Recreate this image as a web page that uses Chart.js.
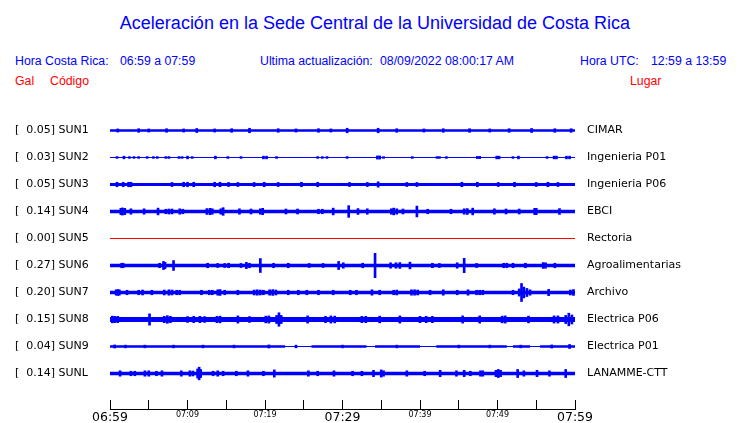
<!DOCTYPE html>
<html>
<head>
<meta charset="utf-8">
<script src="https://cdn.jsdelivr.net/npm/chart.js@4/dist/chart.umd.min.js"></script>
<style>
	body { margin: 0; background: #fff; width: 740px; height: 423px; overflow: hidden; position: relative; }
	canvas { position: absolute; left: 0; top: 0; }
	.t { position: absolute; white-space: pre; font-family: "Liberation Sans", Arial, sans-serif; font-size: 12.3px; line-height: 1; color: #0000ff; }
	.red { color: #ff0000; }
	#title { left: 0; width: 750px; text-align: center; top: 14px; font-size: 18px; }
</style>
</head>
<body>
<div class="t" id="title">Aceleración en la Sede Central de la Universidad de Costa Rica</div>
<div class="t" style="left:15px; top:55px;">Hora Costa Rica:</div>
<div class="t" style="left:120px; top:55px;">06:59 a 07:59</div>
<div class="t" style="left:260px; top:55px;">Ultima actualización:</div>
<div class="t" style="left:380px; top:55px;">08/09/2022 08:00:17 AM</div>
<div class="t" style="left:580px; top:55px;">Hora UTC:</div>
<div class="t" style="left:651px; top:55px;">12:59 a 13:59</div>
<div class="t red" style="left:15px; top:74.5px;">Gal</div>
<div class="t red" style="left:50px; top:74.5px;">Código</div>
<div class="t red" style="left:630px; top:74.5px;">Lugar</div>
<canvas id="sismo" width="740" height="423"></canvas>
<script>
// stations, top to bottom
const stationCodes = ['SUN1', 'SUN2', 'SUN3', 'SUN4', 'SUN5', 'SUN6', 'SUN7', 'SUN8', 'SUN9', 'SUNL'];
const stationScales = ['0.05', '0.03', '0.05', '0.14', '0.00', '0.27', '0.20', '0.15', '0.04', '0.14'];
const stationNames = ['CIMAR', 'Ingenieria P01', 'Ingenieria P06', 'EBCI', 'Rectoria', 'Agroalimentarias', 'Archivo', 'Electrica P06', 'Electrica P01', 'LANAMME-CTT'];

// time axis, minutes after 06:59
const xTickMinutes = [0, 5, 10, 15, 20, 25, 30, 35, 40, 45, 50, 55, 60];
const xTickLabels = ['06:59', '', '07:09', '', '07:19', '', '07:29', '', '07:39', '', '07:49', '', '07:59'];

// background noise level (Gal), as [from minute, half amplitude]
const sun1Noise = [[0, 0.03]];
const sun2Noise = [[0, 0]];
const sun3Noise = [[0, 0.035]];
const sun4Noise = [[0, 0.04]];
const sun5Noise = [[0, 0]];
const sun6Noise = [[0, 0.04]];
const sun7Noise = [[0, 0.04]];
const sun8Noise = [[0, 0.055]];
const sun9Noise = [[0, 0.026], [22.6, 0.008], [26.0, 0.026], [33.1, 0.008], [34.2, 0.026], [40.0, 0.008], [42.1, 0.026], [51.2, 0.008], [52.0, 0.026], [54.2, 0.008], [55.5, 0.026]];
const sunlNoise = [[0, 0.04]];

// peaks (Gal), as [minute, half amplitude]
const sun1Peaks = [[1.0, 0.035], [3.7, 0.04], [5.0, 0.035], [7.3, 0.04], [9.5, 0.035], [11.2, 0.045], [13.5, 0.035], [15.7, 0.04], [18.0, 0.05], [21.7, 0.04], [24.0, 0.035], [26.9, 0.04], [28.5, 0.035], [30.6, 0.05], [34.6, 0.05], [37.0, 0.04], [40.5, 0.035], [43.0, 0.04], [46.4, 0.04], [49.0, 0.035], [51.5, 0.04], [54.4, 0.045], [57.4, 0.04], [59.5, 0.04]];
const sun2Peaks = [[0.9, 0.02], [1.8, 0.03], [2.5, 0.02], [3.1, 0.02], [3.7, 0.02], [4.8, 0.02], [5.6, 0.02], [6.1, 0.02], [7.2, 0.02], [7.6, 0.02], [8.9, 0.02], [9.3, 0.02], [10.0, 0.03], [10.6, 0.02], [13.6, 0.03], [15.2, 0.02], [16.9, 0.02], [19.8, 0.03], [20.2, 0.03], [21.5, 0.02], [26.8, 0.02], [27.4, 0.02], [28.0, 0.02], [30.6, 0.02], [34.5, 0.035], [34.8, 0.035], [35.3, 0.02], [39.0, 0.02], [42.2, 0.02], [42.5, 0.02], [43.4, 0.02], [47.4, 0.025], [47.7, 0.025], [49.9, 0.03], [50.2, 0.03], [52.0, 0.02], [52.7, 0.03], [56.4, 0.02], [57.3, 0.03], [57.6, 0.03], [58.9, 0.03], [59.3, 0.03]];
const sun3Peaks = [[0.9, 0.05], [1.7, 0.05], [2.4, 0.05], [2.7, 0.05], [8.0, 0.045], [9.5, 0.05], [10.0, 0.05], [10.8, 0.05], [13.5, 0.05], [14.2, 0.05], [15.3, 0.045], [16.5, 0.045], [18.6, 0.045], [19.9, 0.05], [21.7, 0.045], [24.7, 0.05], [26.8, 0.05], [30.9, 0.045], [33.2, 0.045], [34.6, 0.06], [38.3, 0.045], [39.6, 0.045], [45.4, 0.05], [47.4, 0.05], [50.1, 0.045], [52.2, 0.05], [55.0, 0.045], [56.5, 0.05], [57.8, 0.045]];
const sun4Peaks = [[1.4, 0.07], [1.6, 0.08], [1.9, 0.07], [2.7, 0.06], [4.4, 0.06], [6.2, 0.075], [7.2, 0.05], [7.6, 0.055], [8.0, 0.055], [9.0, 0.06], [9.4, 0.05], [12.5, 0.065], [12.9, 0.07], [13.2, 0.06], [14.3, 0.06], [14.6, 0.085], [16.7, 0.06], [18.2, 0.055], [19.4, 0.06], [19.7, 0.07], [22.7, 0.055], [24.2, 0.055], [26.9, 0.05], [27.4, 0.05], [28.8, 0.075], [30.8, 0.13], [32.0, 0.065], [33.2, 0.06], [36.3, 0.06], [36.6, 0.075], [37.0, 0.06], [37.8, 0.055], [39.6, 0.12], [41.0, 0.05], [44.0, 0.05], [45.7, 0.06], [46.1, 0.065], [46.8, 0.075], [49.6, 0.06], [51.1, 0.055], [52.8, 0.055], [54.8, 0.07], [55.0, 0.07], [58.0, 0.065]];
const sun5Peaks = [];
const sun6Peaks = [[1.5, 0.05], [1.7, 0.05], [6.4, 0.05], [6.9, 0.09], [7.1, 0.07], [8.2, 0.11], [12.6, 0.05], [13.9, 0.045], [14.8, 0.045], [15.3, 0.05], [16.9, 0.045], [17.6, 0.07], [18.0, 0.05], [19.4, 0.155], [21.1, 0.05], [23.0, 0.05], [25.7, 0.045], [27.5, 0.045], [29.5, 0.09], [30.1, 0.06], [32.6, 0.05], [34.2, 0.27], [36.2, 0.06], [36.9, 0.06], [37.4, 0.065], [38.7, 0.075], [41.6, 0.05], [42.5, 0.045], [44.8, 0.06], [45.7, 0.16], [47.3, 0.045], [50.8, 0.05], [51.2, 0.05], [52.0, 0.05], [53.6, 0.05], [55.9, 0.065], [56.2, 0.06], [57.4, 0.05]];
const sun7Peaks = [[0.8, 0.06], [1.0, 0.065], [1.2, 0.06], [2.2, 0.05], [3.7, 0.05], [4.2, 0.055], [5.4, 0.05], [7.0, 0.055], [7.6, 0.06], [8.0, 0.055], [8.6, 0.05], [9.0, 0.05], [11.8, 0.05], [12.8, 0.05], [13.2, 0.05], [13.9, 0.06], [14.2, 0.065], [14.8, 0.05], [16.5, 0.05], [18.6, 0.055], [19.0, 0.06], [19.4, 0.055], [19.8, 0.05], [20.6, 0.06], [21.0, 0.065], [21.4, 0.055], [23.0, 0.05], [24.3, 0.05], [25.4, 0.05], [26.9, 0.05], [28.8, 0.05], [31.0, 0.05], [31.8, 0.05], [33.8, 0.06], [34.8, 0.05], [36.6, 0.05], [37.0, 0.055], [38.9, 0.06], [39.3, 0.06], [39.7, 0.055], [41.3, 0.05], [43.0, 0.06], [44.8, 0.05], [46.2, 0.06], [47.3, 0.05], [47.7, 0.05], [48.1, 0.05], [52.0, 0.05], [52.8, 0.08], [53.1, 0.2], [53.4, 0.12], [53.8, 0.09], [54.2, 0.06], [56.6, 0.07], [59.4, 0.055], [59.8, 0.065]];
const sun8Peaks = [[0.3, 0.075], [0.6, 0.07], [1.0, 0.07], [5.1, 0.125], [7.0, 0.07], [7.4, 0.085], [7.8, 0.07], [10.0, 0.065], [10.8, 0.07], [11.6, 0.07], [12.2, 0.065], [13.8, 0.07], [14.2, 0.075], [16.5, 0.08], [18.0, 0.065], [20.1, 0.075], [20.5, 0.08], [21.5, 0.09], [21.8, 0.15], [22.1, 0.09], [25.5, 0.08], [27.8, 0.07], [28.5, 0.08], [29.0, 0.075], [32.5, 0.07], [33.0, 0.07], [34.8, 0.075], [37.4, 0.08], [40.0, 0.07], [40.8, 0.07], [41.6, 0.07], [45.5, 0.08], [47.7, 0.08], [50.6, 0.075], [51.0, 0.08], [54.0, 0.075], [57.3, 0.08], [57.8, 0.08], [58.8, 0.09], [59.2, 0.14], [59.6, 0.1]];
const sun9Peaks = [[0.6, 0.035], [2.0, 0.03], [4.5, 0.03], [8.2, 0.03], [12.0, 0.03], [16.0, 0.03], [20.5, 0.035], [24.0, 0.03], [30.0, 0.03], [37.0, 0.03], [45.0, 0.03], [49.0, 0.03], [53.0, 0.03], [57.0, 0.035], [59.3, 0.045]];
const sunlPeaks = [[1.3, 0.06], [2.7, 0.05], [3.2, 0.05], [4.5, 0.06], [5.0, 0.06], [6.0, 0.05], [6.7, 0.06], [9.2, 0.06], [10.3, 0.06], [10.7, 0.055], [11.3, 0.1], [11.5, 0.14], [11.7, 0.09], [13.3, 0.05], [13.9, 0.06], [14.6, 0.05], [16.3, 0.05], [17.8, 0.06], [19.8, 0.05], [21.2, 0.08], [25.6, 0.06], [26.8, 0.05], [28.9, 0.06], [31.3, 0.05], [32.5, 0.05], [34.0, 0.07], [35.0, 0.08], [35.3, 0.06], [38.3, 0.06], [40.6, 0.05], [42.6, 0.07], [44.7, 0.06], [45.7, 0.07], [46.5, 0.05], [47.8, 0.06], [48.1, 0.06], [49.8, 0.07], [50.1, 0.09], [50.4, 0.07], [52.6, 0.09], [53.4, 0.06], [55.1, 0.07], [56.7, 0.06], [58.8, 0.09]];

const noiseLevels = [sun1Noise, sun2Noise, sun3Noise, sun4Noise, sun5Noise, sun6Noise, sun7Noise, sun8Noise, sun9Noise, sunlNoise];
const peaks = [sun1Peaks, sun2Peaks, sun3Peaks, sun4Peaks, sun5Peaks, sun6Peaks, sun7Peaks, sun8Peaks, sun9Peaks, sunlPeaks];
const traceColors = ['#0000ff', '#0000ff', '#0000ff', '#0000ff', '#ff0000', '#0000ff', '#0000ff', '#0000ff', '#0000ff', '#0000ff'];

// each station sits on its own line, 0.6 Gal apart
const rowGap = 0.6;
const rowValues = stationCodes.map(function (c, i) { return i * rowGap; });
const leftLabels = stationCodes.map(function (c, i) { return '[  ' + stationScales[i] + '] ' + c; });

//noise level held flat from each start minute to the next one
function noiseEdge(noise, c, sign)
{
	var out = [];
	noise.forEach(function (n, k) {
		var end = k + 1 < noise.length ? noise[k + 1][0] : 60;
		out.push({ x: n[0], y: c + sign * n[1] });
		out.push({ x: end, y: c + sign * n[1] });
	});
	return out;
}

var datasets = [];
stationCodes.forEach(function (code, i)
{
	var c = rowValues[i];
	var color = traceColors[i];
	//noise band
	datasets.push({
		type: 'line',
		data: noiseEdge(noiseLevels[i], c, -1),
		borderColor: 'rgba(0,0,0,0)', borderWidth: 0, pointRadius: 0, fill: false
	});
	datasets.push({
		type: 'line',
		data: noiseEdge(noiseLevels[i], c, 1),
		borderColor: 'rgba(0,0,0,0)', borderWidth: 0, pointRadius: 0,
		fill: '-1', backgroundColor: color
	});
	//base line
	datasets.push({
		type: 'line',
		data: [{ x: 0, y: c }, { x: 60, y: c }],
		borderColor: color, borderWidth: 1, pointRadius: 0, fill: false
	});
	//peaks
	datasets.push({
		type: 'bar',
		data: peaks[i].map(function (p) { return { x: p[0], y: [c - p[1], c + p[1]] }; }),
		backgroundColor: color, borderWidth: 0, barThickness: 2, grouped: false
	});
});

function rowTicks(axis)
{
	axis.ticks = rowValues.map(function (v) { return { value: v }; });
}

function fitSide(w)
{
	return function (axis) {
		axis.width = w;
		axis.paddingTop = 0;
		axis.paddingBottom = 0;
	};
}

new Chart(document.getElementById('sismo'), {
	type: 'line',
	data: { datasets: datasets },
	options: {
		responsive: false,
		animation: false,
		events: [],
		layout: { padding: { left: 15, top: 108, right: 0, bottom: 0 } },
		plugins: { legend: { display: false }, tooltip: { enabled: false } },
		scales: {
			x: {
				type: 'linear', min: 0, max: 60, offset: false,
				afterBuildTicks: function (axis) { axis.ticks = xTickMinutes.map(function (v) { return { value: v }; }); },
				afterFit: function (axis) { axis.height = 14; },
				grid: { offset: false, drawOnChartArea: false, tickLength: -9, color: '#000', lineWidth: 1 },
				border: { color: '#000', width: 1 },
				ticks: {
					autoSkip: false, maxRotation: 0, padding: 10, color: '#000',
					callback: function (v, i) { return xTickLabels[i]; },
					font: function (ctx) {
						return ctx.index % 6 === 0 ? { family: 'DejaVu Sans', size: 12.5 } : { family: 'DejaVu Sans', size: 8 };
					}
				}
			},
			y: {
				min: -0.5, max: 6.1889, reverse: true, position: 'left',
				afterBuildTicks: rowTicks,
				afterFit: fitSide(95),
				grid: { display: false, drawTicks: false },
				border: { display: false },
				ticks: {
					crossAlign: 'far', padding: 0, color: '#000', autoSkip: false,
					font: { family: 'DejaVu Sans', size: 11 },
					callback: function (v, i) { return leftLabels[i]; }
				}
			},
			yRight: {
				min: -0.5, max: 6.1889, reverse: true, position: 'right',
				afterBuildTicks: rowTicks,
				afterFit: fitSide(165),
				grid: { display: false, drawTicks: true, tickLength: 12 },
				border: { display: false },
				ticks: {
					crossAlign: 'near', padding: 0, color: '#000', autoSkip: false,
					font: { family: 'DejaVu Sans', size: 11 },
					callback: function (v, i) { return stationNames[i]; }
				}
			}
		}
	}
});
</script>
</body>
</html>
